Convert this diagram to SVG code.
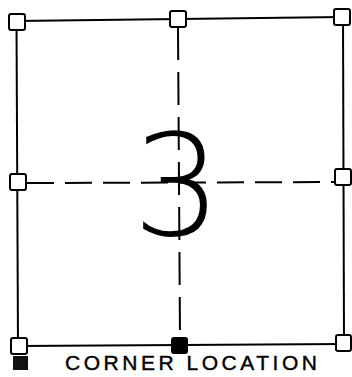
<svg xmlns="http://www.w3.org/2000/svg" width="352" height="377" viewBox="0 0 352 377">
<style>
.ln{stroke:#000;stroke-width:2;fill:none;stroke-linecap:butt}
.ds{stroke:#000;stroke-width:2;fill:none}
.sq{fill:#fff;stroke:#000;stroke-width:2}
.fs{fill:#000;stroke:#000;stroke-width:2}
.lbl{font-family:"Liberation Sans",Arial,sans-serif;font-size:21px;fill:#000;stroke:#000;stroke-width:0.4}
.big{font-family:"DejaVu Sans",sans-serif;font-weight:200;font-size:140px;fill:#000}
</style>
<rect width="352" height="377" fill="#fff"/>
<g id="connectors">
<line class="ln" x1="16.5" y1="21" x2="342" y2="17"/>
<line class="ln" x1="16.5" y1="22" x2="18" y2="346"/>
<line class="ln" x1="343" y1="17" x2="344" y2="343"/>
<line class="ln" x1="19" y1="346" x2="344" y2="344"/>
<line class="ds" x1="178" y1="27" x2="180" y2="337" stroke-dasharray="33 12"/>
<line class="ds" x1="27" y1="183" x2="335" y2="182" stroke-dasharray="27 11"/>
</g>
<g id="n-tl"><rect class="sq" x="9" y="14" width="16" height="16" rx="2"/></g>
<g id="n-tm"><rect class="sq" x="170" y="11" width="16" height="16" rx="2"/></g>
<g id="n-tr"><rect class="sq" x="334" y="9" width="16" height="16" rx="2"/></g>
<g id="n-ml"><rect class="sq" x="10" y="174" width="16" height="16" rx="2"/></g>
<g id="n-mr"><rect class="sq" x="335" y="169" width="16" height="16" rx="2"/></g>
<g id="n-bl"><rect class="sq" x="11" y="338" width="16" height="16" rx="2"/></g>
<g id="n-bm"><rect class="fs" x="172" y="338" width="15" height="15" rx="2"/></g>
<g id="n-br"><rect class="sq" x="336" y="335" width="15" height="16" rx="2"/></g>
<g id="number"><text class="big" x="177" y="235" text-anchor="middle">3</text></g>
<g id="legend">
<rect x="13" y="356" width="15" height="14" fill="#111"/>
<text class="lbl" x="65" y="370" textLength="252" lengthAdjust="spacing">CORNER LOCATION</text>
</g>
</svg>
